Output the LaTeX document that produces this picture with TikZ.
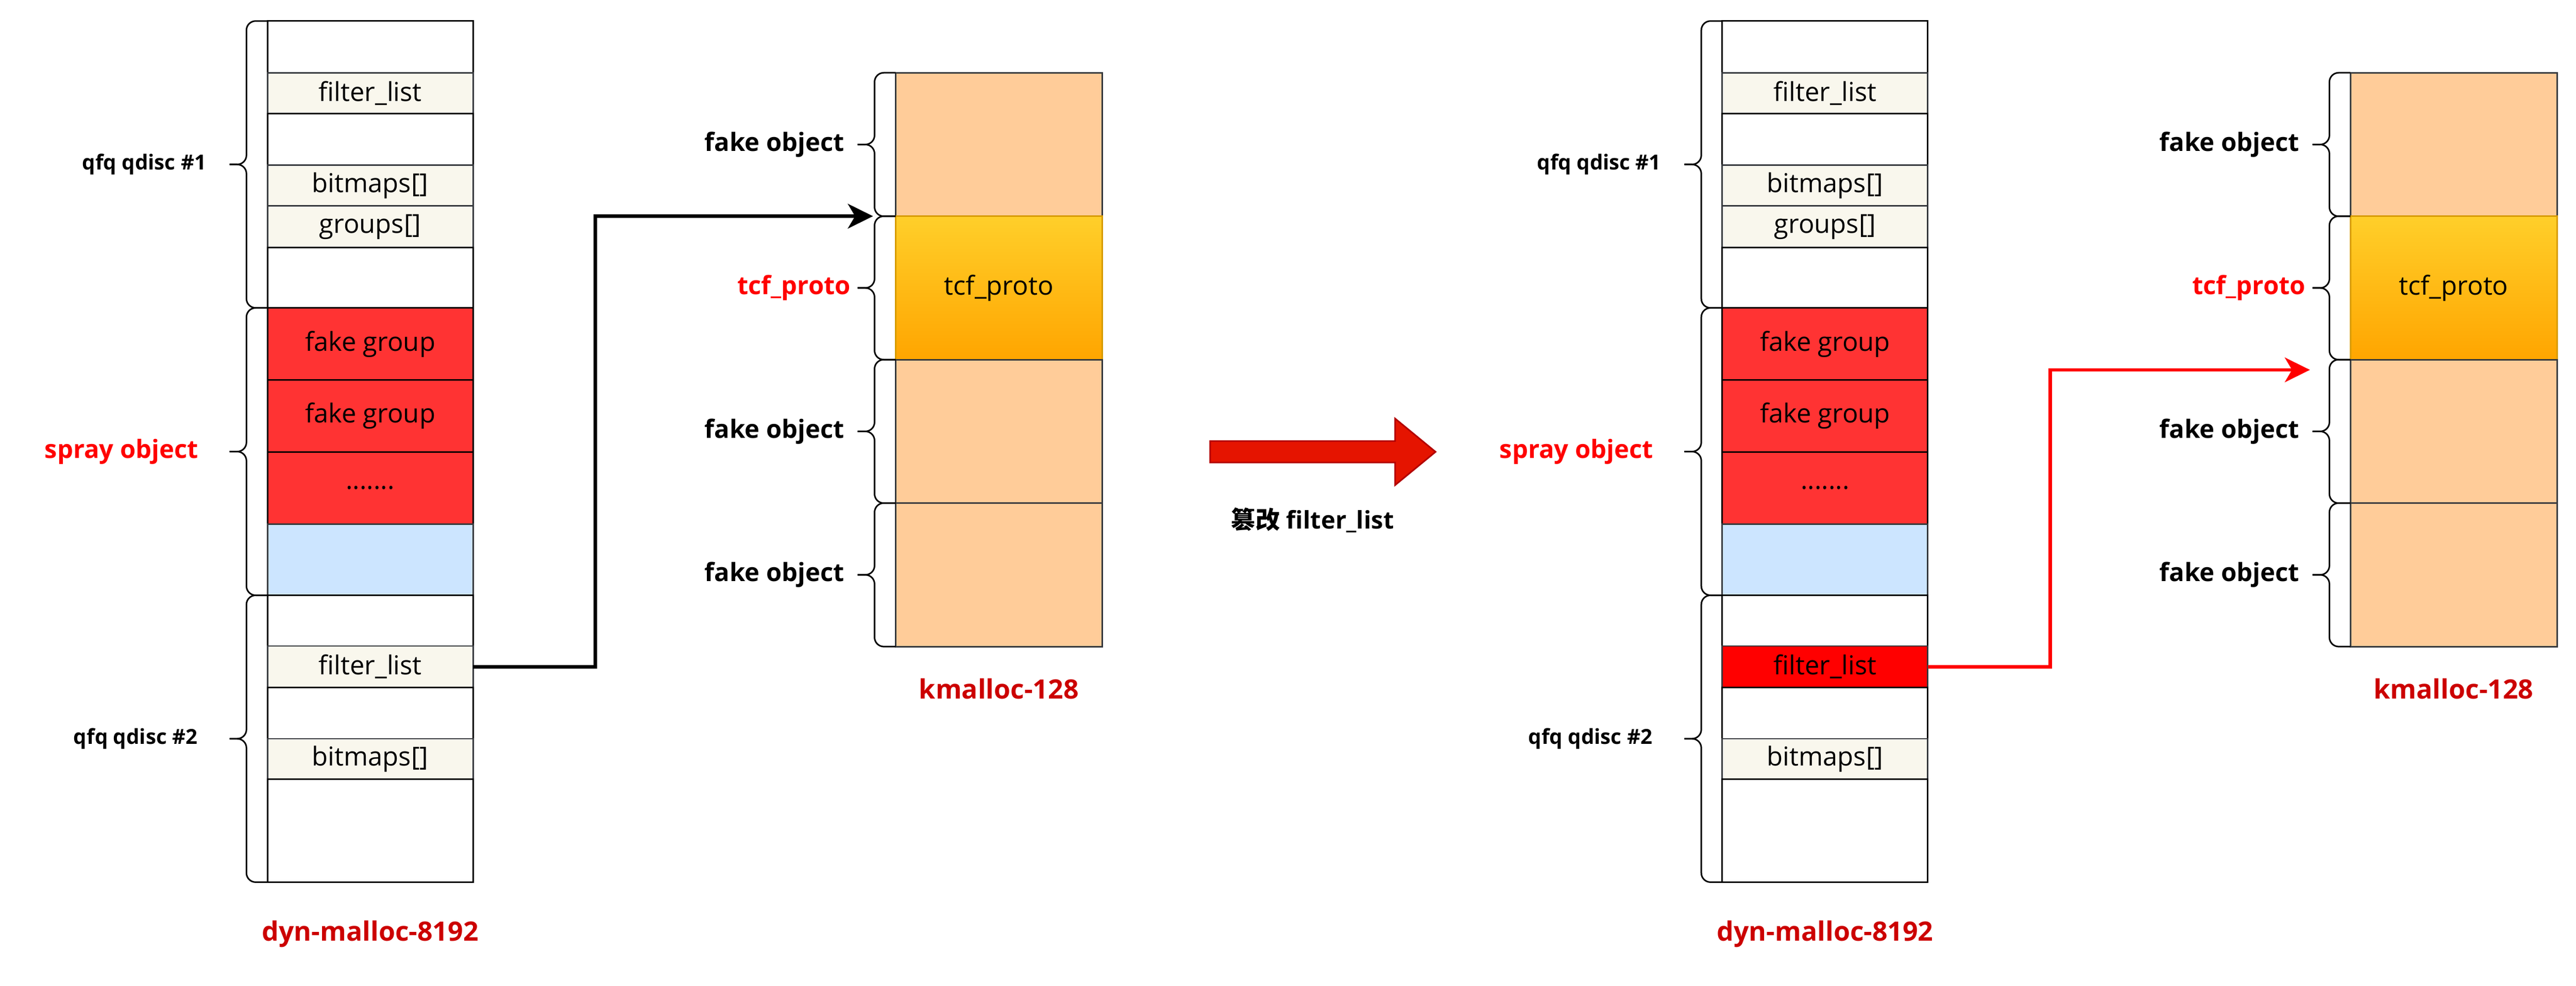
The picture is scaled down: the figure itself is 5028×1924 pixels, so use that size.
\documentclass[tikz,border=0pt]{standalone}
\usepackage{fontspec}
\setmainfont{Open Sans}
\newfontfamily\cjk{Noto Sans CJK SC}
\usetikzlibrary{arrows.meta,positioning,calc}
\definecolor{fieldcream}{HTML}{F9F7ED}
\definecolor{edgegray}{HTML}{36393D}
\definecolor{sprayred}{HTML}{FF3333}
\definecolor{spareblue}{HTML}{CCE5FF}
\definecolor{fakepeach}{HTML}{FFCC99}
\definecolor{protoedge}{HTML}{D79B00}
\definecolor{prototop}{HTML}{FFCF2A}
\definecolor{protobot}{HTML}{FFA500}
\definecolor{slabred}{HTML}{CC0000}
\definecolor{shiftred}{HTML}{E51400}
\definecolor{shiftedge}{HTML}{B20000}
\newcommand{\moredots}{.......}
\tikzset{
  cellbox/.style={rectangle, inner sep=0pt, outer sep=0pt, minimum width=4.01cm, line width=0.03cm, font=\fontsize{14.5}{17}\selectfont},
  blankcell/.style={fill=white, draw=black},
  fieldcell/.style={fill=fieldcream, draw=edgegray},
  groupcell/.style={fill=sprayred, draw=black},
  sparecell/.style={fill=spareblue, draw=edgegray},
  hitcell/.style={fill=red, draw=edgegray},
  fakecell/.style={fill=fakepeach, draw=edgegray},
  protocell/.style={top color=prototop, bottom color=protobot, draw=protoedge},
  sidelabel/.style={inner sep=0pt, font=\bfseries\fontsize{14}{17}\selectfont},
  qlabel/.style={inner sep=0pt, font=\bfseries\fontsize{11.5}{14}\selectfont},
  cachelabel/.style={text=slabred, font=\bfseries\fontsize{14.8}{18}\selectfont},
  bracepen/.style={line width=0.03cm, rounded corners=0.18cm},
  ptr/.style={line width=0.07cm, -{Stealth[length=0.49cm,width=0.48cm,inset=0.14cm]}},
}
% one dyn-malloc-8192 slab, #1 = name prefix, #2 = style of the second filter_list
\newcommand{\dynslab}[2]{%
  \foreach \n/\t/\b/\s/\l in {s1/41/142/blankcell/{}, s2/142/222/fieldcell/filter\_list,
      s3/222/322/blankcell/{}, s4/322/402/fieldcell/bitmaps[], s5/402/483/fieldcell/groups[],
      s6/483/601/blankcell/{}, s7/601/742/groupcell/fake group, s8/742/882/groupcell/fake group,
      s9/882/1023/groupcell/\moredots, s10/1023/1162/sparecell/{}, s11/1162/1261/blankcell/{},
      s12/1261/1342/#2/filter\_list, s13/1342/1442/blankcell/{}, s14/1442/1521/fieldcell/bitmaps[],
      s15/1521/1722/blankcell/{}}
    \node[cellbox, \s, minimum height={(\b-\t)*0.01cm}, anchor=north west] (#1\n) at (522,\t) {\l};
}
% one kmalloc-128 slab
\newcommand{\kmslab}[1]{%
  \foreach \n/\t/\s/\l in {k1/142/fakecell/{}, k2/422/protocell/tcf\_proto, k3/702/fakecell/{}, k4/982/fakecell/{}}
    \node[cellbox, \s, minimum width=4.03cm, minimum height=2.8cm, anchor=north west] (#1\n) at (1748,\t) {\l};
}
% curly brace between two corners, tip named #3
\newcommand{\membrace}[3]{%
  \coordinate (#3) at ($(#1)!0.5!(#2)+(-74,0)$);
  \draw[bracepen] (#1) -- ++(-41,0) |- (#3);
  \draw[bracepen] (#2) -- ++(-41,0) |- (#3);
}

\begin{document}
\begin{tikzpicture}[x=0.01cm, y=-0.01cm]
\useasboundingbox (0,0) rectangle (5028,1924);

% before
\dynslab{l}{fieldcell}
\kmslab{l}
\membrace{ls1.north west}{ls6.south west}{lb1}
\membrace{ls7.north west}{ls10.south west}{lb2}
\membrace{ls11.north west}{ls15.south west}{lb3}
\node[qlabel, left=0.45cm of lb1] {qfq qdisc \#1};
\node[sidelabel, text=red, left=0.6cm of lb2] {spray object};
\node[qlabel, left=0.62cm of lb3] {qfq qdisc \#2};
\node[cachelabel] (ldyn) at ($(ls15.south)+(0,101)$) {dyn-malloc-8192};
\foreach \k in {1,...,4} {\membrace{lk\k.north west}{lk\k.south west}{lkb\k}}
\node[sidelabel, left=0.25cm of lkb1] {fake object};
\node[sidelabel, text=red, left=0.13cm of lkb2] {tcf\_proto};
\node[sidelabel, left=0.25cm of lkb3] {fake object};
\node[sidelabel, left=0.25cm of lkb4] {fake object};
\node[cachelabel] (lkm) at ($(lk4.south)+(0,82)$) {kmalloc-128};
\coordinate (lhit) at ($(lk2.north west)+(-44,0)$);
\draw[ptr] (ls12.east) -- ++(239,0) |- (lhit);

% tamper step
\draw[fill=shiftred, draw=shiftedge, line width=0.03cm] (2362,861) -- (2723,861) -- (2723,817) -- (2802,882)
  -- (2723,947) -- (2723,903) -- (2362,903) -- cycle;
\node[font=\bfseries\fontsize{13.5}{16}\selectfont] (tamper) at (2562,1015) {{\cjk 篡改} filter\_list};

% after
\begin{scope}[xshift=28.38cm]
\dynslab{r}{hitcell}
\kmslab{r}
\membrace{rs1.north west}{rs6.south west}{rb1}
\membrace{rs7.north west}{rs10.south west}{rb2}
\membrace{rs11.north west}{rs15.south west}{rb3}
\node[qlabel, left=0.45cm of rb1] {qfq qdisc \#1};
\node[sidelabel, text=red, left=0.6cm of rb2] {spray object};
\node[qlabel, left=0.62cm of rb3] {qfq qdisc \#2};
\node[cachelabel] (rdyn) at ($(rs15.south)+(0,101)$) {dyn-malloc-8192};
\foreach \k in {1,...,4} {\membrace{rk\k.north west}{rk\k.south west}{rkb\k}}
\node[sidelabel, left=0.25cm of rkb1] {fake object};
\node[sidelabel, text=red, left=0.13cm of rkb2] {tcf\_proto};
\node[sidelabel, left=0.25cm of rkb3] {fake object};
\node[sidelabel, left=0.25cm of rkb4] {fake object};
\node[cachelabel] (rkm) at ($(rk4.south)+(0,82)$) {kmalloc-128};
\coordinate (rhit) at ($(rk3.north west)+(-79,20)$);
\draw[ptr, red, line width=0.065cm] (rs12.east) -- ++(239,0) |- (rhit);
\end{scope}
\end{tikzpicture}
\end{document}
